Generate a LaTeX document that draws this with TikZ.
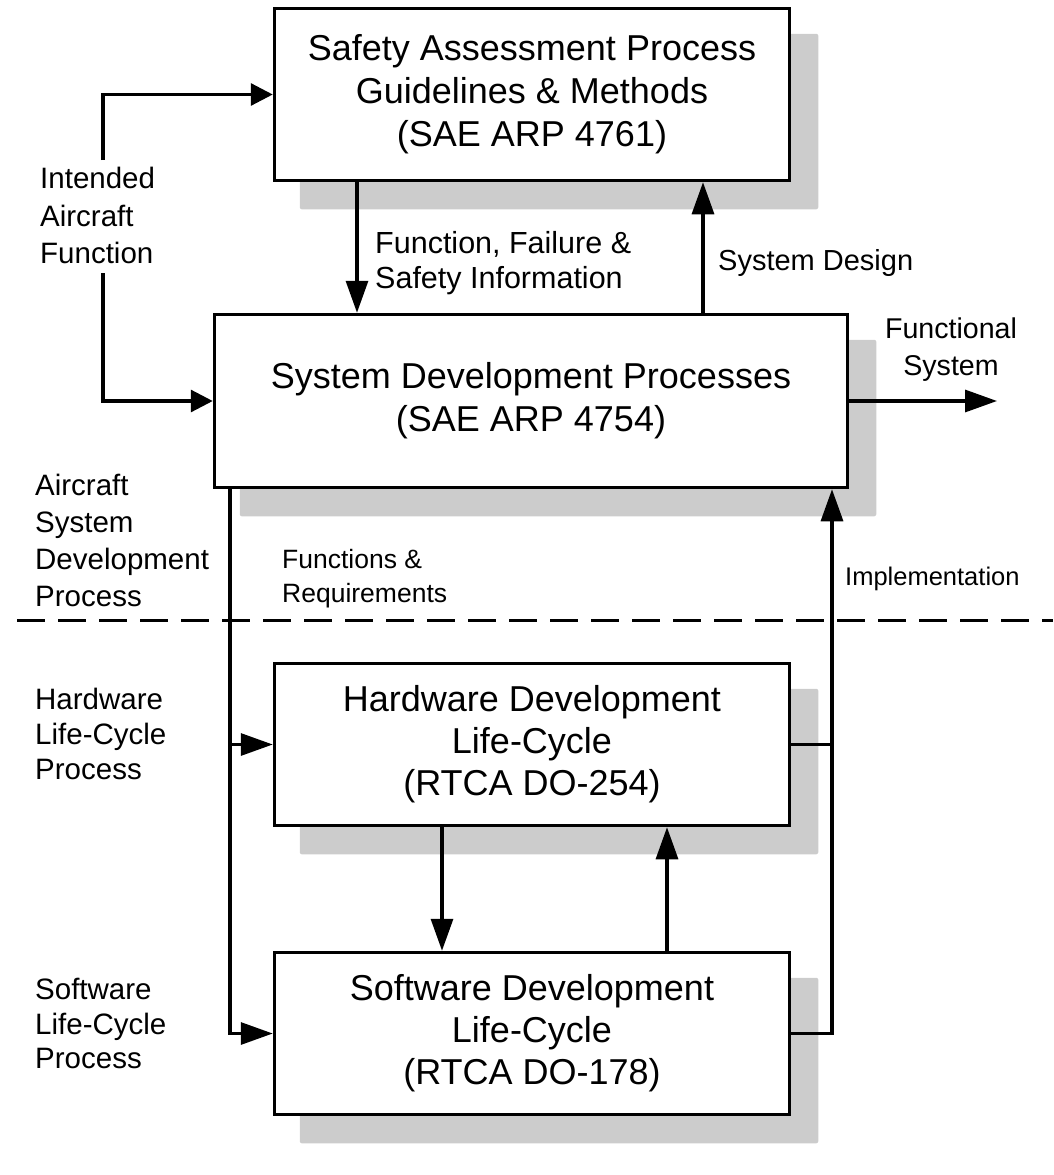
\documentclass[tikz,border=0pt]{standalone}
\usepackage{fontspec}
\setmainfont{Liberation Sans}
\usetikzlibrary{arrows.meta,backgrounds}
\definecolor{shadowgray}{RGB}{204,204,204}
\begin{document}
\begin{tikzpicture}[x=1pt,y=-1pt,
  box/.style={draw, line width=3.5pt, fill=white, align=center, inner sep=0pt, font=\fontsize{36}{43}\selectfont},
  lbl/.style={anchor=north west, inner sep=0pt, align=left},
  arr/.style={line width=3.2pt, -{Triangle[length=32pt,width=22pt]}},
  arrs/.style={line width=3.2pt, -{Triangle[length=22pt,width=22pt]}},
  ln/.style={line width=3.2pt},
  sep/.style={line width=3pt, dash pattern=on 28pt off 13pt}
]
\useasboundingbox (0,0) rectangle (1053,1175);

% boxes
\node[box, minimum width=515pt, minimum height=172pt] (sa) at (532,94.5) {Safety Assessment Process\\Guidelines \& Methods\\(SAE ARP 4761)};
\node[box, minimum width=633pt, minimum height=173pt] (sd) at (531,401) {System Development Processes\\(SAE ARP 4754)};
\node[box, font=\fontsize{36}{42}\selectfont, minimum width=515pt, minimum height=162pt] (hw) at (532,744.5) {Hardware Development\\Life-Cycle\\(RTCA DO-254)};
\node[box, font=\fontsize{36}{42}\selectfont, minimum width=515pt, minimum height=162pt] (sw) at (532,1033.5) {Software Development\\Life-Cycle\\(RTCA DO-178)};

% shadows
\begin{scope}[on background layer]
\foreach \n in {sa,sd,hw,sw}
  \fill[shadowgray, rounded corners=2pt] ([shift={(27,27)}]\n.north west) rectangle ([shift={(27,27)}]\n.south east);
\end{scope}

% separator
\coordinate (dl) at (17,620);
\coordinate (dr) at (1053,620);
\draw[sep] (dl) -- (dr);

% labels
\node[lbl, font=\fontsize{29.5}{37.5}\selectfont] (lia) at (40,167) {Intended\\Aircraft\\Function};
\node[lbl, font=\fontsize{29.5}{37}\selectfont] (lasd) at (35,474) {Aircraft\\System\\Development\\Process};
\node[lbl, font=\fontsize{29.5}{35}\selectfont] (lhw) at (35,688) {Hardware\\Life-Cycle\\Process};
\node[lbl, font=\fontsize{29.5}{34.5}\selectfont] (lsw) at (35,978) {Software\\Life-Cycle\\Process};
\node[lbl, font=\fontsize{30.5}{35}\selectfont] (lff) at (375,231) {Function, Failure \&\\Safety Information};
\node[lbl, font=\fontsize{29}{35}\selectfont] (lsdes) at (718,249) {System Design};
\node[anchor=north, inner sep=0pt, align=center, font=\fontsize{28.6}{37}\selectfont] (lfs) at (951,317.5) {Functional\\System};
\node[lbl, font=\fontsize{25.5}{30}\selectfont] (limp) at (845,566.6) {Implementation};
\node[lbl, font=\fontsize{26.5}{34}\selectfont] (lfr) at (282,549) {Functions \&\\Requirements};

% connectors
\coordinate (iatop) at (103,160);
\coordinate (iabot) at (103,273);
\draw[arrs] (iatop) |- (sa.west);
\draw[arrs] (iabot) |- (sd.west);

\coordinate (ffx) at (357,0);
\draw[arr] (sa.south -| ffx) -- (sd.north -| ffx);
\coordinate (sdx) at (703,0);
\draw[arr] (sd.north -| sdx) -- (sa.south -| sdx);

\coordinate (fsend) at (997,401);
\draw[arr] (sd.east) -- (fsend);

\coordinate (frx) at (230,0);
\draw[arr] (sd.south -| frx) |- (sw.west);
\draw[arr] (hw.west -| frx) -- (hw.west);

\coordinate (impx) at (832,0);
\draw[arr] (sw.east) -| (sd.south -| impx);
\draw[ln] (hw.east) -- (hw.east -| impx);

\coordinate (hsx) at (442,0);
\draw[arr] (hw.south -| hsx) -- (sw.north -| hsx);
\coordinate (shx) at (667,0);
\draw[arr] (sw.north -| shx) -- (hw.south -| shx);
\end{tikzpicture}
\end{document}
